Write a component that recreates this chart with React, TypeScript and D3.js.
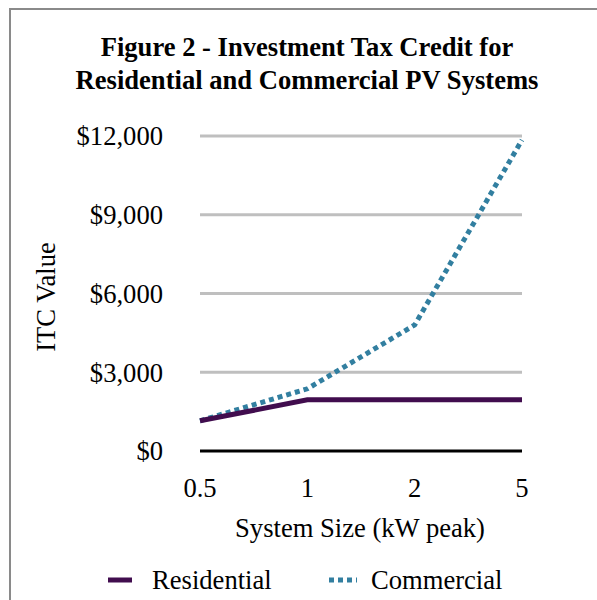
import { useRef, useEffect } from 'react';
import * as d3 from 'd3';

const sizes = ['0.5', '1', '2', '5'];
const residential = [1150, 1950, 1950, 1950];
const commercial = [1150, 2370, 4800, 11850];
const yTicks = [0, 3000, 6000, 9000, 12000];
const titleLines = ['Figure 2 - Investment Tax Credit for', 'Residential and Commercial PV Systems'];

const W = 597;
const H = 600;
const FONT = '"Liberation Serif", "Times New Roman", serif';

export default function App() {
    const svgRef = useRef<SVGSVGElement>(null);

    useEffect(() => {
        if (!svgRef.current) return;
        const svg = d3.select(svgRef.current);
        svg.selectAll('*').remove();

        const plot = { left: 200, right: 522, top: 136, bottom: 451 };

        const x = d3.scalePoint<string>().domain(sizes).range([plot.left, plot.right]);
        const y = d3.scaleLinear().domain([0, 12000]).range([plot.bottom, plot.top]);

        // chart frame
        svg.append('rect')
            .attr('x', 10).attr('y', 9)
            .attr('width', 700).attr('height', 700)
            .attr('fill', 'white')
            .attr('stroke', '#8a8a8a')
            .attr('stroke-width', 2);

        // title
        svg.append('text')
            .attr('font-family', FONT)
            .attr('font-weight', 'bold')
            .attr('font-size', 26.6)
            .attr('text-anchor', 'middle')
            .selectAll('tspan')
            .data(titleLines)
            .enter()
            .append('tspan')
            .attr('x', 307)
            .attr('y', (_d, i) => 56 + i * 33)
            .text(d => d);

        // grid lines
        svg.append('g')
            .selectAll('line')
            .data(yTicks.filter(t => t > 0))
            .enter()
            .append('line')
            .attr('x1', plot.left).attr('x2', plot.right)
            .attr('y1', d => y(d)).attr('y2', d => y(d))
            .attr('stroke', '#bfbfbf')
            .attr('stroke-width', 3);

        // zero axis
        svg.append('line')
            .attr('x1', plot.left).attr('x2', plot.right)
            .attr('y1', y(0)).attr('y2', y(0))
            .attr('stroke', '#000')
            .attr('stroke-width', 3);

        // y tick labels
        svg.append('g')
            .selectAll('text')
            .data(yTicks)
            .enter()
            .append('text')
            .attr('x', 163)
            .attr('y', d => y(d))
            .attr('dy', '0.35em')
            .attr('text-anchor', 'end')
            .attr('font-family', FONT)
            .attr('font-size', 26.6)
            .text(d => '$' + d3.format(',')(d));

        // x tick labels
        svg.append('g')
            .selectAll('text')
            .data(sizes)
            .enter()
            .append('text')
            .attr('x', d => x(d) || 0)
            .attr('y', 497)
            .attr('text-anchor', 'middle')
            .attr('font-family', FONT)
            .attr('font-size', 26.6)
            .text(d => d);

        // axis titles
        svg.append('text')
            .attr('x', 360).attr('y', 537)
            .attr('text-anchor', 'middle')
            .attr('font-family', FONT)
            .attr('font-size', 26.6)
            .text('System Size (kW peak)');

        svg.append('text')
            .attr('transform', 'translate(55,297) rotate(-90)')
            .attr('text-anchor', 'middle')
            .attr('font-family', FONT)
            .attr('font-size', 26.6)
            .text('ITC Value');

        const line = d3.line<number>()
            .x((_d, i) => x(sizes[i]) || 0)
            .y(d => y(d));

        svg.append('path')
            .datum(commercial)
            .attr('d', line)
            .attr('fill', 'none')
            .attr('stroke', '#327fa0')
            .attr('stroke-width', 5)
            .attr('stroke-dasharray', '5 4');

        svg.append('path')
            .datum(residential)
            .attr('d', line)
            .attr('fill', 'none')
            .attr('stroke', '#410d4e')
            .attr('stroke-width', 5);

        // legend
        const legend = svg.append('g');
        legend.append('line')
            .attr('x1', 108).attr('x2', 132)
            .attr('y1', 580).attr('y2', 580)
            .attr('stroke', '#410d4e')
            .attr('stroke-width', 5);
        legend.append('text')
            .attr('x', 152).attr('y', 589)
            .attr('font-family', FONT)
            .attr('font-size', 26.6)
            .text('Residential');
        legend.append('line')
            .attr('x1', 329).attr('x2', 357)
            .attr('y1', 580).attr('y2', 580)
            .attr('stroke', '#327fa0')
            .attr('stroke-width', 5)
            .attr('stroke-dasharray', '5 4');
        legend.append('text')
            .attr('x', 371).attr('y', 589)
            .attr('font-family', FONT)
            .attr('font-size', 26.6)
            .text('Commercial');
    }, []);

    return (
        <svg
            ref={svgRef}
            width={W}
            height={H}
            style={{ position: 'absolute', left: 0, top: 0, background: 'white' }}
        />
    );
}
